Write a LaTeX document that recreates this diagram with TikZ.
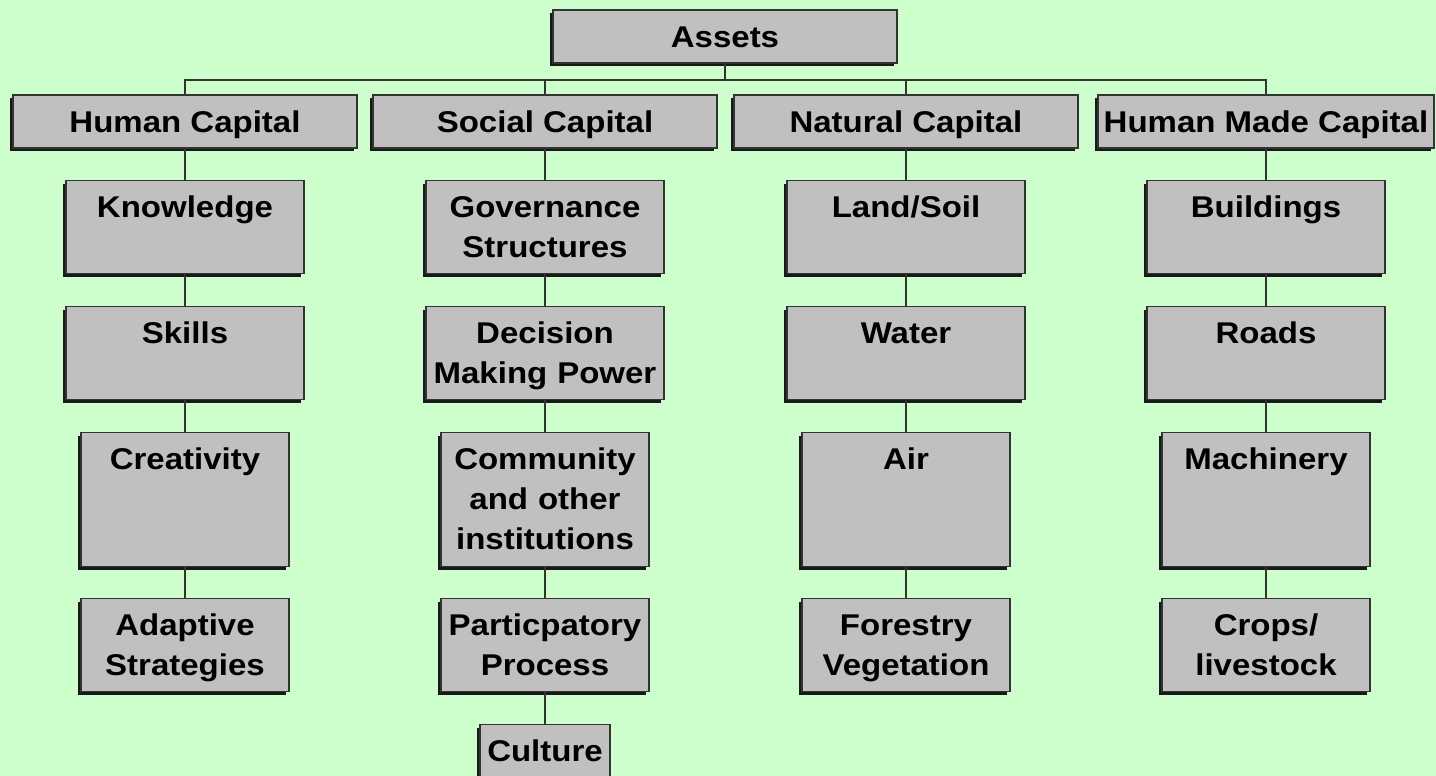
\documentclass[tikz,border=0pt]{standalone}
\usepackage{fontspec}
\setmainfont{Liberation Sans}[FakeStretch=1.1]
\usetikzlibrary{shadows}
\definecolor{bgcol}{HTML}{CCFFCC}
\definecolor{boxcol}{HTML}{C0C0C0}
\definecolor{edgecol}{HTML}{333333}

\begin{document}
\begin{tikzpicture}[x=0.5pt, y=-0.5pt,
  box/.style={draw=edgecol, line width=0.6pt, fill=boxcol, inner sep=0pt, align=center,
    font={\fontsize{15pt}{20pt}\selectfont\bfseries},
    drop shadow={shadow xshift=-1.5pt, shadow yshift=-1.5pt, opacity=1, fill=black!90}},
  headbox/.style={box, minimum width=#1, minimum height=26.5pt, text height=10.75pt, text depth=0pt},
  rowbox/.style={box, anchor=north, text width=#1, text height=18.5pt, text depth=28pt},
  tall/.style={text depth=48.5pt},
  link/.style={draw=edgecol, line width=0.6pt}]
\fill[bgcol] (0,0) rectangle (1436,776);
\clip (0,0) rectangle (1436,776);

\node[headbox=172pt] (assets) at (725,36.5) {Assets};
% the four capitals
\node[headbox=172pt] (hum) at (185,121.5) {Human Capital};
\node[headbox=172pt] (soc) at (545,121.5) {Social Capital};
\node[headbox=172pt] (nat) at (906,121.5) {Natural Capital};
\node[headbox=168pt] (hmc) at (1266,121.5) {Human Made Capital};

% human capital
\node[rowbox=119pt] (know) at (185,180) {Knowledge};
\node[rowbox=119pt] (skill) at (185,306) {Skills};
\node[rowbox=104pt, tall] (creat) at (185,432) {Creativity};
\node[rowbox=104pt] (adapt) at (185,598) {Adaptive\\Strategies};
% social capital
\node[rowbox=119pt] (gov) at (545,180) {Governance\\Structures};
\node[rowbox=119pt] (dec) at (545,306) {Decision\\Making Power};
\node[rowbox=104pt, tall] (comm) at (545,432) {Community\\and other\\institutions};
\node[rowbox=104pt] (part) at (545,598) {Particpatory\\Process};
\node[rowbox=65pt] (cult) at (545,724) {Culture};
% natural capital
\node[rowbox=119pt] (land) at (906,180) {Land/Soil};
\node[rowbox=119pt] (water) at (906,306) {Water};
\node[rowbox=104pt, tall] (air) at (906,432) {Air};
\node[rowbox=104pt] (forest) at (906,598) {Forestry\\Vegetation};
% human made capital
\node[rowbox=119pt] (build) at (1266,180) {Buildings};
\node[rowbox=119pt] (roads) at (1266,306) {Roads};
\node[rowbox=104pt, tall] (mach) at (1266,432) {Machinery};
\node[rowbox=104pt] (crops) at (1266,598) {Crops/\\livestock};

\coordinate (bus) at (725,80);
\draw[link] (assets.south) -- (bus);
\foreach \c in {hum,soc,nat,hmc}
  \draw[link] (bus) -| (\c.north);
\foreach \a/\b in {hum/know,know/skill,skill/creat,creat/adapt,
  soc/gov,gov/dec,dec/comm,comm/part,part/cult,
  nat/land,land/water,water/air,air/forest,
  hmc/build,build/roads,roads/mach,mach/crops}
  \draw[link] (\a.south) -- (\b.north);
\end{tikzpicture}
\end{document}
